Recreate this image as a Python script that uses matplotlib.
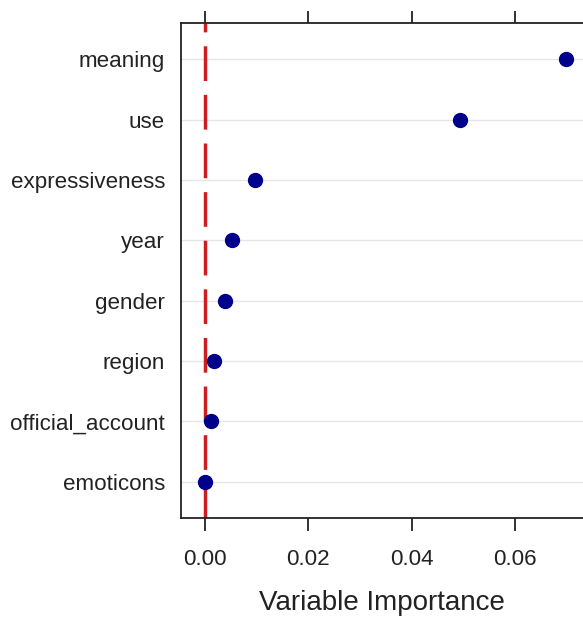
import matplotlib.pyplot as plt
import numpy as np

# variable importance values (top to bottom)
variables = ["meaning", "use", "expressiveness", "year", "gender",
             "region", "official_account", "emoticons"]
importance = [0.0698, 0.0493, 0.0097, 0.0052, 0.0039, 0.0017, 0.0012, 0.0000]
xticks = [0.00, 0.02, 0.04, 0.06]

plt.rcParams['font.family'] = ['Liberation Sans', 'DejaVu Sans']

fig = plt.figure(figsize=(5.83, 6.19), dpi=100)
ax = fig.add_axes([0.3105, 0.1632, 0.6895, 0.7996])

ypos = np.arange(len(variables), 0, -1)

for y in ypos:
    ax.axhline(y, color="#e6e6e6", lw=1, zorder=0)

ax.axvline(0, color="#cc1f1f", lw=2.5, ls=(0, (10, 4)), zorder=1)
ax.plot(importance, ypos, "o", color="#00008b", ms=10, zorder=2)

ax.set_xlim(-0.00464, 0.0731)
ax.set_ylim(0.4, 8.6)
ax.set_yticks(ypos)
ax.set_yticklabels(variables, fontsize=16.1, color="#222222")
ax.tick_params(axis="y", length=0, pad=11.5)
ax.set_xticks(xticks)
ax.set_xticklabels([f"{v:.2f}" for v in xticks], fontsize=16.1, color="#222222")
ax.tick_params(axis="x", length=9, width=1.3, top=True, direction="out",
               color="#222222", pad=13)
ax.set_xlabel("Variable Importance", fontsize=20, color="#222222", labelpad=14.5)

for s in ["left", "top", "bottom"]:
    ax.spines[s].set_linewidth(1.3)
    ax.spines[s].set_color("#222222")
ax.spines["right"].set_visible(False)

fig.savefig("out.png", dpi=100)
